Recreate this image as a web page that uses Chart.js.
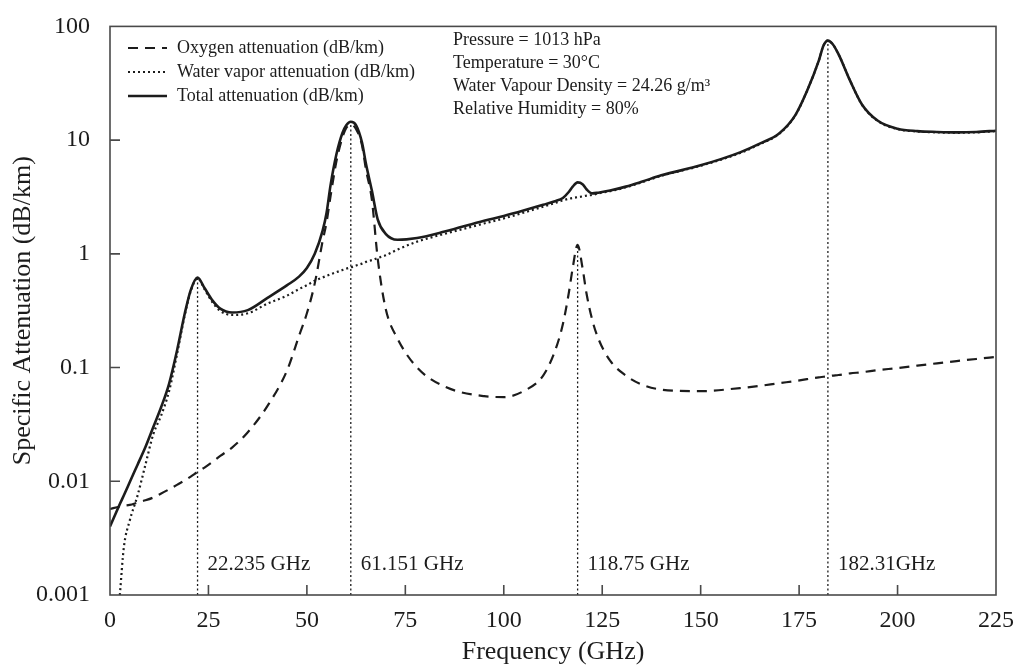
<!DOCTYPE html>
<html>
<head>
<meta charset="utf-8">
<title>Specific attenuation</title>
<script src="https://cdn.jsdelivr.net/npm/chart.js@4.4.1/dist/chart.umd.min.js"></script>
<style>
    html, body { margin: 0; padding: 0; background: #fff; }
    canvas { display: block; }
</style>
</head>
<body>
<canvas id="chart" width="1017" height="671"></canvas>
<script>
// Frequency grid (GHz), denser around the absorption lines
const freqGHz = [
    0, 2.5, 3.5, 5, 7, 9, 11, 13, 15, 17, 19, 20.5, 22.235, 24, 26, 28, 31, 35, 40, 45,
    48, 50, 52, 54, 55, 56, 57.5, 59, 60, 61.151, 62.5, 64, 65, 66.5, 68, 70, 73, 78, 85, 95,
    100, 105, 110, 113, 115, 116.5, 117.5, 118.75, 120, 121, 122.5, 124, 127, 131, 135, 140, 150, 160,
    165, 170, 174, 177, 180, 181.2, 182.31, 183.5, 185, 188, 191, 195, 200, 205, 210, 215, 220, 225
];

// dB/km
const oxygenAtt = [
    0.0057, 0.006, 0.0061, 0.0062, 0.0065, 0.0068, 0.0072, 0.0078, 0.0085, 0.0093, 0.0102, 0.011, 0.0121, 0.0132, 0.0148, 0.0167, 0.0198, 0.027, 0.046, 0.095,
    0.19, 0.3, 0.55, 1.3, 1.9, 3.2, 6.5, 10.5, 12.8, 13.7, 12.5, 9, 5.5, 3.0, 0.9, 0.33, 0.18, 0.1, 0.068, 0.056,
    0.055, 0.062, 0.085, 0.14, 0.24, 0.45, 0.75, 1.2, 0.75, 0.45, 0.26, 0.18, 0.115, 0.085, 0.071, 0.064, 0.062, 0.066,
    0.069, 0.073, 0.076, 0.079, 0.082, 0.083, 0.084, 0.085, 0.086, 0.089, 0.091, 0.095, 0.099, 0.104, 0.109, 0.114, 0.119, 0.124
];

const waterVaporAtt = [
    null, 0.001, 0.0026, 0.0045, 0.0075, 0.014, 0.026, 0.038, 0.062, 0.13, 0.29, 0.47, 0.61, 0.49, 0.375, 0.315, 0.29, 0.3, 0.365, 0.43,
    0.49, 0.53, 0.58, 0.62, 0.64, 0.66, 0.69, 0.72, 0.74, 0.76, 0.79, 0.82, 0.85, 0.88, 0.92, 0.97, 1.09, 1.28, 1.5, 1.85,
    2.05, 2.3, 2.6, 2.8, 2.95, 3.05, 3.1, 3.15, 3.2, 3.25, 3.3, 3.4, 3.55, 3.85, 4.25, 4.85, 5.95, 7.7,
    9.2, 11.4, 16.4, 27, 50, 68, 75, 70, 57, 33, 20.4, 14.7, 12.5, 11.9, 11.7, 11.6, 11.7, 12
];

const totalAtt = [
    0.004, 0.0063, 0.0075, 0.0098, 0.014, 0.02, 0.03, 0.045, 0.072, 0.14, 0.3, 0.48, 0.62, 0.5, 0.39, 0.33, 0.305, 0.32, 0.41, 0.53,
    0.63, 0.75, 1.0, 1.6, 2.3, 4.0, 7.5, 11.5, 13.5, 14.5, 13.5, 9.5, 6.2, 3.6, 2.0, 1.5, 1.33, 1.38, 1.57, 1.95,
    2.15, 2.4, 2.7, 2.9, 3.1, 3.5, 3.9, 4.25, 4.1, 3.7, 3.4, 3.45, 3.6, 3.9, 4.3, 4.9, 6.0, 7.8,
    9.3, 11.5, 16.5, 27, 50, 68, 75, 70, 57, 33, 20.5, 14.8, 12.6, 12, 11.8, 11.7, 11.8, 12.1
];

// Absorption lines: frequency, label, and which series the marker rises to
const lineFreqs = [22.235, 61.151, 118.75, 182.31];
const lineLabels = ["22.235 GHz", "61.151 GHz", "118.75 GHz", "182.31GHz"];
const lineSeries = [2, 2, 0, 2];

const yTicks = [0.001, 0.01, 0.1, 1, 10, 100];
const xMax = 225;
const xStep = 25;

const conditions = [
    "Pressure = 1013 hPa",
    "Temperature = 30°C",
    "Water Vapour Density = 24.26 g/m³",
    "Relative Humidity = 80%",
];

const serif = "'Liberation Serif', 'DejaVu Serif', serif";
const ink = "#1c1c1c";
const axisColor = "#4a4a4a";

const toPoints = (vals) => freqGHz.map((f, i) => ({ x: f, y: vals[i] }));

// Box round the plot plus inward tick marks
const framePlugin = {
    id: "frame",
    afterDraw(chart) {
        const { ctx, chartArea: a, scales } = chart;
        ctx.save();
        ctx.strokeStyle = axisColor;
        ctx.lineWidth = 1.6;
        ctx.strokeRect(a.left, a.top, a.right - a.left, a.bottom - a.top);
        ctx.beginPath();
        scales.x.ticks.forEach((t) => {
            const px = scales.x.getPixelForValue(t.value);
            if (px > a.left + 2 && px < a.right - 2) {
                ctx.moveTo(px, a.bottom);
                ctx.lineTo(px, a.bottom - 10);
            }
        });
        scales.y.ticks.forEach((t) => {
            const py = scales.y.getPixelForValue(t.value);
            if (py > a.top + 2 && py < a.bottom - 2) {
                ctx.moveTo(a.left, py);
                ctx.lineTo(a.left + 10, py);
            }
        });
        ctx.stroke();
        ctx.restore();
    },
};

// Dotted markers at the line centres, with their labels
const linesPlugin = {
    id: "absorptionLines",
    beforeDatasetsDraw(chart) {
        const { ctx, chartArea: a, scales } = chart;
        ctx.save();
        ctx.strokeStyle = ink;
        ctx.lineWidth = 1.3;
        ctx.setLineDash([2, 2.5]);
        lineFreqs.forEach((f, i) => {
            const idx = freqGHz.indexOf(f);
            const top = chart.data.datasets[lineSeries[i]].data[idx].y;
            const px = scales.x.getPixelForValue(f);
            ctx.beginPath();
            ctx.moveTo(px, a.bottom);
            ctx.lineTo(px, scales.y.getPixelForValue(top));
            ctx.stroke();
        });
        ctx.setLineDash([]);
        ctx.fillStyle = ink;
        ctx.font = `21px ${serif}`;
        ctx.textBaseline = "middle";
        ctx.textAlign = "left";
        lineFreqs.forEach((f, i) => {
            const px = scales.x.getPixelForValue(f);
            ctx.fillText(lineLabels[i], px + 10, a.bottom - 31);
        });
        ctx.restore();
    },
};

// Legend and measurement conditions in the top-left of the plot
const notesPlugin = {
    id: "notes",
    afterDraw(chart) {
        const { ctx } = chart;
        ctx.save();
        ctx.fillStyle = ink;
        ctx.font = `18px ${serif}`;
        ctx.textBaseline = "middle";
        ctx.textAlign = "left";
        chart.data.datasets.forEach((ds, i) => {
            const y = 48 + i * 24;
            ctx.strokeStyle = ds.borderColor;
            ctx.lineWidth = ds.borderWidth;
            ctx.setLineDash(ds.borderDash || []);
            ctx.beginPath();
            ctx.moveTo(128, y);
            ctx.lineTo(167, y);
            ctx.stroke();
            ctx.fillText(ds.label, 177, y);
        });
        ctx.setLineDash([]);
        conditions.forEach((line, i) => {
            ctx.fillText(line, 453, 40 + i * 23);
        });
        ctx.restore();
    },
};

new Chart(document.getElementById("chart"), {
    type: "line",
    data: {
        datasets: [
            {
                label: "Oxygen attenuation (dB/km)",
                data: toPoints(oxygenAtt),
                borderColor: ink,
                borderWidth: 2.2,
                borderDash: [10, 7],
            },
            {
                label: "Water vapor attenuation (dB/km)",
                data: toPoints(waterVaporAtt),
                borderColor: ink,
                borderWidth: 2.2,
                borderDash: [2, 3],
            },
            {
                label: "Total attenuation (dB/km)",
                data: toPoints(totalAtt),
                borderColor: ink,
                borderWidth: 2.6,
            },
        ],
    },
    options: {
        responsive: false,
        animation: false,
        layout: { padding: { top: 22, right: 21, left: 0, bottom: 0 } },
        elements: {
            point: { radius: 0 },
            line: { cubicInterpolationMode: "monotone", fill: false },
        },
        plugins: {
            legend: { display: false },
            tooltip: { enabled: false },
        },
        scales: {
            x: {
                type: "linear",
                min: 0,
                max: xMax,
                grid: { display: false },
                border: { display: false },
                afterFit: (scale) => {
                    scale.height = 76;
                    scale.paddingLeft = 0;
                    scale.paddingRight = 0;
                },
                ticks: {
                    stepSize: xStep,
                    autoSkip: false,
                    maxRotation: 0,
                    padding: 3,
                    color: ink,
                    font: { family: serif, size: 24 },
                },
                title: {
                    display: true,
                    text: "Frequency (GHz)",
                    color: ink,
                    padding: { top: 0, bottom: 3 },
                    font: { family: serif, size: 26 },
                },
            },
            y: {
                type: "logarithmic",
                min: 0.001,
                max: 100,
                grid: { display: false },
                border: { display: false },
                afterFit: (scale) => { scale.width = 110; },
                afterBuildTicks: (scale) => {
                    scale.ticks = yTicks.map((v) => ({ value: v }));
                },
                ticks: {
                    padding: 12,
                    color: ink,
                    font: { family: serif, size: 24 },
                    callback: (v) => String(v),
                },
                title: {
                    display: true,
                    text: "Specific Attenuation (dB/km)",
                    color: ink,
                    padding: { top: 8, bottom: 0 },
                    font: { family: serif, size: 26 },
                },
            },
        },
    },
    plugins: [framePlugin, linesPlugin, notesPlugin],
});
</script>
</body>
</html>
